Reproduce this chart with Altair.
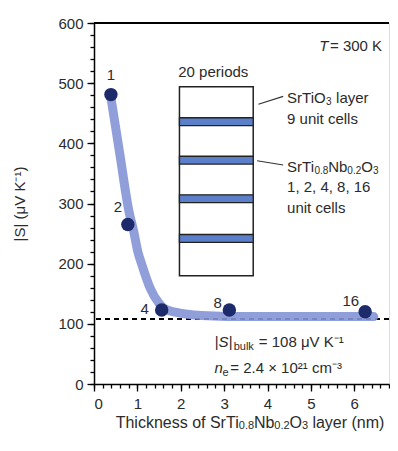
import altair as alt
import pandas as pd

# measured data points (thickness nm, |S| uV/K), label = unit cells
pt_x = [0.39, 0.78, 1.56, 3.12, 6.25]
pt_y = [481, 265, 123, 123, 120]
pt_lab = ["1", "2", "4", "8", "16"]
lab_x = [0.39, 0.55, 1.17, 2.85, 5.92]
lab_y = [513, 295, 124, 135, 138]

# guide curve
cv_x = [0.39, 0.60, 0.80, 0.92, 1.01, 1.10, 1.29, 1.49, 1.63, 1.90, 2.48, 3.63, 4.77, 6.45]
cv_y = [476, 380, 289, 252, 220, 199, 160, 135, 125, 119, 114, 112, 112, 112]

bulk = 108

# inset superlattice diagram
box_x = [1.97, 3.67]
box_y = [180, 494]
stripe_c = [436, 372, 308, 242]
stripe_h = 6.5
lead_x = [3.79, 3.76]
lead_x2 = [4.36, 4.36]
lead_y = [465, 371]
lead_y2 = [478, 364]

XD = [0, 6.8]
YD = [0, 600]
FONT = "Liberation Sans"
TC = "#2b2b2b"


def xs():
    return alt.Scale(domain=XD, nice=False, zero=False)


def ys():
    return alt.Scale(domain=YD, nice=False, zero=False)


def X(f="x", **kw):
    return alt.X(f, type="quantitative", scale=xs(), axis=None, **kw)


def Y(f="y", **kw):
    return alt.Y(f, type="quantitative", scale=ys(), axis=None, **kw)


pts = pd.DataFrame({"x": pt_x, "y": pt_y})
labs = pd.DataFrame({"x": lab_x, "y": lab_y, "t": pt_lab})
curve = pd.DataFrame({"x": cv_x, "y": cv_y})

ax_common = dict(domainColor="black", domainWidth=1.5, tickColor="black", tickWidth=1.3,
                 labelFont=FONT, labelFontSize=15, labelColor=TC, grid=False,
                 titleFont=FONT, titleFontSize=15, titleColor=TC, titleFontWeight="normal")

major = alt.Chart(pts).mark_point(opacity=0).encode(
    x=alt.X("x:Q", scale=xs(),
            axis=alt.Axis(values=[0, 1, 2, 3, 4, 5, 6], tickSize=7, labelPadding=5, orient="bottom",
                          title=None, **ax_common)),
    y=alt.Y("y:Q", scale=ys(),
            axis=alt.Axis(values=[0, 100, 200, 300, 400, 500, 600], tickSize=7, labelPadding=4,
                          orient="left", title="|S| (μV K⁻¹)", titlePadding=30, **ax_common)),
)

minor = alt.Chart(pts).mark_point(opacity=0).encode(
    x=alt.X("x:Q", scale=xs(),
            axis=alt.Axis(values=[i / 5 for i in range(35)], tickSize=4, labels=False,
                          title=None, orient="bottom", domain=False,
                          tickColor="black", tickWidth=1.3, grid=False)),
    y=alt.Y("y:Q", scale=ys(),
            axis=alt.Axis(values=list(range(0, 601, 20)), tickSize=4, labels=False,
                          title=None, orient="left", domain=False,
                          tickColor="black", tickWidth=1.3, grid=False)),
)

top = alt.Chart(pts).mark_rule(color="black", strokeWidth=1.5).encode(y=alt.datum(600, scale=ys(), axis=None))

dash = alt.Chart(pts).mark_rule(color="black", strokeWidth=1.5, strokeDash=[5, 4]).encode(
    y=alt.datum(bulk, scale=ys(), axis=None))

line = alt.Chart(curve).mark_line(color="#8494d6", strokeWidth=9, interpolate="monotone",
                                  strokeCap="round", opacity=0.9).encode(x=X(), y=Y())

dots = alt.Chart(pts).mark_circle(size=180, color="#1d2b6b", opacity=1).encode(x=X(), y=Y())

dot_lab = alt.Chart(labs).mark_text(font=FONT, fontSize=15, color=TC).encode(x=X(), y=Y(), text="t:N")

boxdf = pd.DataFrame({"x": [box_x[0]], "x2": [box_x[1]], "y": [box_y[0]], "y2": [box_y[1]]})
box = alt.Chart(boxdf).mark_rect(fill="white", stroke="#222", strokeWidth=1.5).encode(
    x=X(), x2="x2", y=Y(), y2="y2")

stdf = pd.DataFrame({"x": [box_x[0]] * 4, "x2": [box_x[1]] * 4,
                     "y": [c - stripe_h for c in stripe_c], "y2": [c + stripe_h for c in stripe_c]})
stripes = alt.Chart(stdf).mark_rect(fill="#5b7fc9", stroke="#222", strokeWidth=1.3).encode(
    x=X(), x2="x2", y=Y(), y2="y2")

ldf = pd.DataFrame({"x": lead_x, "x2": lead_x2, "y": lead_y, "y2": lead_y2})
leads = alt.Chart(ldf).mark_rule(color="#333", strokeWidth=1.2).encode(x=X(), x2="x2", y=Y(), y2="y2")


def txt(xv, yv, s, size=15, style="normal", align="left", dy=0):
    d = pd.DataFrame({"x": [xv], "y": [yv], "t": [s]})
    return alt.Chart(d).mark_text(font=FONT, fontSize=size, fontStyle=style, color=TC,
                                  align=align, baseline="middle", dy=dy).encode(x=X(), y=Y(), text="t:N")


TY = -65
texts = [
    txt(5.19, 561, "T", style="italic"),
    txt(5.44, 561, "= 300 K"),
    txt(2.75, 518, "20 periods", align="center"),
    # SrTiO3 layer
    txt(4.45, 476, "SrTiO"),
    txt(5.35, 476, "3", size=10, dy=4),
    txt(5.58, 476, "layer"),
    txt(4.45, 441, "9 unit cells"),
    # SrTi0.8Nb0.2O3
    txt(4.45, 361, "SrTi"),
    txt(5.08, 361, "0.8", size=10, dy=4),
    txt(5.40, 361, "Nb"),
    txt(5.84, 361, "0.2", size=10, dy=4),
    txt(6.16, 361, "O"),
    txt(6.43, 361, "3", size=10, dy=4),
    txt(4.45, 327, "1, 2, 4, 8, 16"),
    txt(4.45, 292, "unit cells"),
    # bulk values
    txt(2.78, 69, "|S|", style="italic"),
    txt(3.22, 69, "bulk", size=11, dy=5),
    txt(3.80, 69, "= 108 μV K⁻¹"),
    txt(2.78, 27, "n", style="italic"),
    txt(2.96, 27, "e", size=11, dy=5),
    txt(3.14, 27, "= 2.4 × 10²¹ cm⁻³"),
    # x axis title
    txt(0.50, TY, "Thickness of SrTi", size=16),
    txt(3.337, TY, "0.8", size=11, dy=3),
    txt(3.688, TY, "Nb", size=16),
    txt(4.156, TY, "0.2", size=11, dy=3),
    txt(4.507, TY, "O", size=16),
    txt(4.792, TY, "3", size=11, dy=3),
    txt(5.034, TY, "layer (nm)", size=16),
]

chart = alt.layer(
    alt.layer(top, dash, line, dots, dot_lab, box, stripes, leads, *texts),
    major,
    minor,
).resolve_axis(x="independent", y="independent").properties(
    width=382, height=431,
    autosize=alt.AutoSizeParams(type="fit", contains="padding"),
    padding={"left": 4, "top": 8, "right": 0, "bottom": 0}
).configure_view(stroke=None).configure(background="white")

chart.save("out.html", embed_options={"renderer": "svg", "actions": False})
